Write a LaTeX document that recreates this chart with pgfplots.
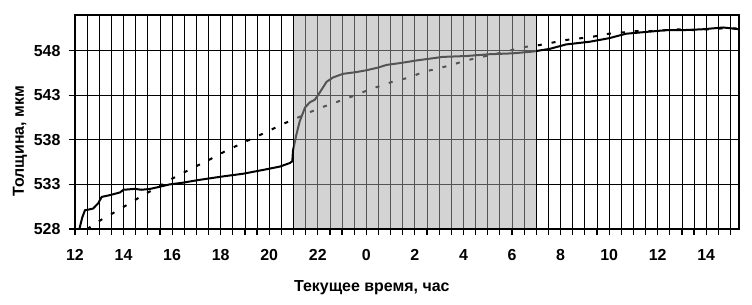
\documentclass[border=0pt]{standalone}
\usepackage{fontspec}
\setmainfont{Liberation Sans}
\usepackage{pgfplots}
\pgfplotsset{compat=1.18}
\pgfplotsset{
  layers/mylayers/.define layer set={axis background,axis grid,main,shade,axis ticks,axis lines,axis tick labels,axis descriptions,axis foreground}{/pgfplots/layers/standard},
}
\begin{document}
\begin{tikzpicture}
\begin{axis}[
  set layers=mylayers,
  scale only axis,
  width=664bp, height=214bp,
  xmin=12, xmax=39.35, ymin=528, ymax=552,
  xtick={12,14,...,38},
  xticklabels={12,14,16,18,20,22,0,2,4,6,8,10,12,14},
  minor xtick={12,12.5,...,39},
  ytick={528,533,538,543,548},
  grid=both,
  major grid style={black, line width=0.8bp},
  minor grid style={black, line width=0.8bp},
  tick align=outside,
  xtick pos=bottom, ytick pos=left,
  major tick length=6bp, minor tick length=6bp,
  every tick/.style={black, line width=1.2bp},
  axis line style={black, line width=2bp},
  ticklabel style={font=\fontsize{16}{19}\selectfont\bfseries},
  /pgf/number format/assume math mode=true,
  yticklabel style={xshift=-5bp},
  xticklabel style={yshift=-11bp},
  xlabel={Текущее время, час},
  ylabel={Толщина, мкм},
  every axis x label/.style={at={(axis description cs:0.447,-0.2757)}, anchor=center, font=\fontsize{16}{19}\selectfont\bfseries},
  every axis y label/.style={at={(axis description cs:-0.0828,0.41)}, rotate=90, anchor=center, font=\fontsize{16}{19}\selectfont\bfseries},
]
\addplot[black, line width=2bp, mark=none] coordinates {
(12.18,528.0) (12.3,529.3) (12.41,530.1) (12.6,530.2) (12.75,530.3) (12.96,530.9)
(13.1,531.6) (13.44,531.8) (13.85,532.1) (14.0,532.4) (14.47,532.5) (14.74,532.4)
(15.1,532.5) (15.43,532.7) (15.9,533.0) (16.46,533.2) (17.1,533.5) (18.1,533.9)
(18.93,534.2) (19.89,534.7) (20.44,535.0) (20.85,535.4) (20.95,535.6) (20.98,536.8)
(21.12,538.6) (21.26,540.1) (21.47,541.6) (21.67,542.2) (21.88,542.5) (22.08,543.3)
(22.36,544.5) (22.63,545.0) (23.04,545.4) (23.59,545.6) (24.0,545.8) (24.48,546.1)
(24.83,546.4) (25.37,546.6) (26.06,546.9) (27.15,547.3) (28.12,547.4) (29.07,547.6)
(30.03,547.7) (30.86,547.9) (31.55,548.2) (32.23,548.7) (33.2,549.0) (34.0,549.4)
(34.7,549.9) (35.52,550.1) (36.35,550.3) (37.03,550.3) (37.85,550.4) (38.7,550.6)
(39.35,550.4)
};
\addplot[black, line width=2bp, mark=none, dash pattern=on 4bp off 10bp] coordinates {
(12.5,528.0) (13.12,529.1) (13.71,530.0) (14.26,530.9) (14.81,531.8) (15.35,532.6)
(15.9,533.5) (16.53,534.4) (17.07,535.15) (17.62,535.9) (18.17,536.7) (18.79,537.5)
(19.34,538.2) (19.91,538.9) (20.5,539.7) (21.1,540.4) (21.67,541.1) (22.22,541.7)
(22.84,542.3) (23.45,542.9) (24.0,543.5) (24.62,544.1) (25.17,544.6) (25.79,545.0)
(26.33,545.6) (26.95,546.0) (27.5,546.4) (28.12,546.9) (28.74,547.3) (29.28,547.6)
(29.9,548.0) (30.48,548.4) (31.07,548.6) (31.66,548.9) (32.23,549.2) (32.85,549.4)
(33.4,549.6) (33.99,549.9) (34.57,550.05) (35.1,550.2) (35.73,550.2) (36.35,550.3)
(36.96,550.4) (37.5,550.3) (38.1,550.4) (38.67,550.5) (39.35,550.5)
};
\addplot[on layer=shade, draw=none, fill=black!34, fill opacity=0.5] coordinates {
(21,528) (21,552) (31,552) (31,528)
} -- cycle;
\end{axis}
\path (current axis.south west) ++(-75bp,-76bp) rectangle ++(752bp,305bp);
\end{tikzpicture}
\end{document}
